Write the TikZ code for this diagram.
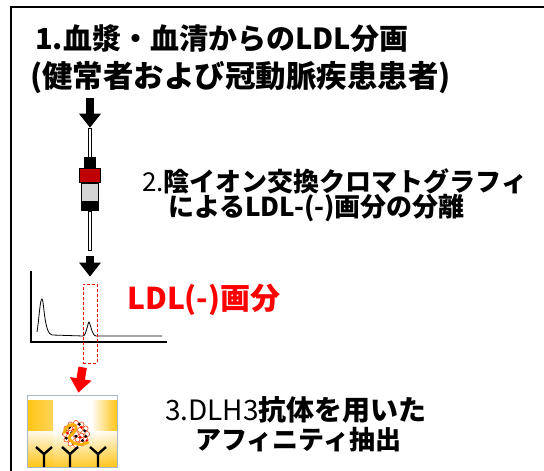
\documentclass[tikz,border=0pt]{standalone}
\usepackage{fontspec}
\newfontfamily\jpfont{Noto Sans CJK JP}
\usetikzlibrary{arrows.meta, positioning}
\definecolor{colred}{RGB}{192,0,0}
\definecolor{colgray}{RGB}{212,212,212}
\definecolor{wellgold}{RGB}{255,196,20}
\definecolor{wellrim}{RGB}{170,185,200}
\definecolor{apob}{RGB}{255,176,0}
\definecolor{lipid}{RGB}{240,70,20}
\tikzset{
    steptext/.style={
        anchor=west, inner sep=0pt,
        font=\jpfont\bfseries\fontsize{#1}{#1}\selectfont
    },
    blockarrow/.style={draw=black, line width=8.5pt, -{Triangle[width=21pt, length=14pt]}},
    tube/.style={
        rectangle, draw=black, line width=0.6pt, fill=white,
        minimum width=3.5pt, inner sep=0pt
    },
    colpart/.style={
        rectangle, draw=black, line width=0.6pt,
        minimum width=17pt, inner sep=0pt
    },
    antibody/.style={draw=black, line width=2.4pt},
    axis/.style={draw=black, line width=2pt}
}

\begin{document}
\begin{tikzpicture}[x=1pt, y=-1pt]
\clip (0,0) rectangle (544,471);
\fill[white] (0,0) rectangle (544,471);

% outer frame
\draw[line width=2.5pt] (11,490) -- (11,7) -- (560,7);

% step 1
\node[steptext=29] (s1a) at (35,39) {1.血漿・血清からのLDL分画};
\node[steptext=30.5] (s1b) at (30,78) {(健常者および冠動脈疾患患者)};

% column
\coordinate (a1) at (90,98);
\node[tube, minimum height=29pt] (tubeA) at (90,142.5) {};
\node[colpart, fill=black, minimum width=11pt, minimum height=10pt, below=0pt of tubeA] (cap) {};
\node[colpart, fill=colred, minimum width=21pt, minimum height=14pt, below=0pt of cap] (band) {};
\node[colpart, fill=colgray, minimum height=18pt, below=0pt of band] (body) {};
\node[colpart, fill=black, minimum height=9pt, below=0pt of body] (frit) {};
\node[tube, minimum height=39pt, below=0pt of frit] (tubeB) {};

% step 2
\node[steptext=26] (s2a) at (142,181) {{\mdseries 2.}陰イオン交換クロマトグラフィ};
\node[steptext=26] (s2b) at (168,208) {によるLDL-(-)画分の分離};

% chromatogram
\draw[axis] (31,271) -- (31,342) -- (167,342);
\draw[line width=0.8pt] (37,332) .. controls (39,320) and (40,299) .. (42,299)
    .. controls (44,299) and (44,334) .. (52,335) -- (83,336)
    .. controls (86,336) and (88,322) .. (89,322)
    .. controls (90,322) and (92,336) .. (96,336) -- (162,336);
\node[draw=red, dashed, dash pattern=on 3pt off 2pt, line width=0.8pt,
      minimum width=14pt, minimum height=79pt, inner sep=0pt] (ldlbox) at (90,323.5) {};
\node[steptext=30, text=red] (ldl) at (127,300) {LDL(-)画分};

% affinity well
\node[rectangle, draw=wellrim, line width=0.8pt, fill=white,
      minimum width=90pt, minimum height=72pt, inner sep=0pt,
      path picture={
        \shade[left color=wellgold, right color=white]
            (path picture bounding box.north west) rectangle ([xshift=26pt]path picture bounding box.south west);
        \shade[left color=white, right color=wellgold]
            ([xshift=-26pt]path picture bounding box.north east) rectangle (path picture bounding box.south east);
        \shade[top color=white, bottom color=wellgold, opacity=0.9]
            ([yshift=36pt]path picture bounding box.south west) rectangle (path picture bounding box.south east);
        \fill[white] (path picture bounding box.north west) rectangle ([yshift=-5pt]path picture bounding box.north east);
      }] (well) at (72,431) {};

% arrows between steps
\draw[blockarrow] (a1) -- (tubeA.north);
\draw[blockarrow, shorten <=6pt, shorten >=7pt] (tubeB) -- (ldlbox);
\draw[blockarrow, draw=red, shorten <=4pt, shorten >=2pt] (ldlbox) -- (well);

% LDL particle
\begin{scope}[shift={(76,434)}, scale=1.08]
  \fill[white] (0,0) circle (12.5);
  \foreach \a in {0,30,...,330}
    \draw[lipid, line width=0.6pt] (\a:10.3) circle (2.3);
  \foreach \a in {15,75,...,315}
    \draw[lipid, line width=0.6pt] (\a:5.3) circle (2.3);
  \draw[lipid, line width=0.6pt] (0,0) circle (2.3);
  \foreach \p in {(-6,-6),(3,-9),(8,-3),(-9,4),(-3,8),(6,6),(0,2),(-4,-1),(9,2),(-10,-3)}
    \fill[black] \p circle (1.5);
  \foreach \p in {(-8,-1),(5,-6),(2,9),(-2,-4),(10,6),(4,3)}
    \fill[red] \p circle (1.4);
  \draw[apob, line width=2.8pt, line cap=round]
    (-11,-1) .. controls (-9,-10) and (1,-11) .. (0,-5)
    .. controls (-1,0) and (-9,1) .. (-5,6)
    .. controls (-2,10) and (6,11) .. (11,8);
\end{scope}

% antibodies on the well floor
\foreach \x in {44,70,98}
  \draw[antibody] (\x,467) -- (\x,454) -- (\x-8,447) (\x,454) -- (\x+8,447);

% step 3
\node[steptext=28] (s3a) at (165,410) {{\mdseries 3.DLH3}抗体を用いた};
\node[steptext=26] (s3b) at (195,440) {アフィニティ抽出};

\end{tikzpicture}
\end{document}
